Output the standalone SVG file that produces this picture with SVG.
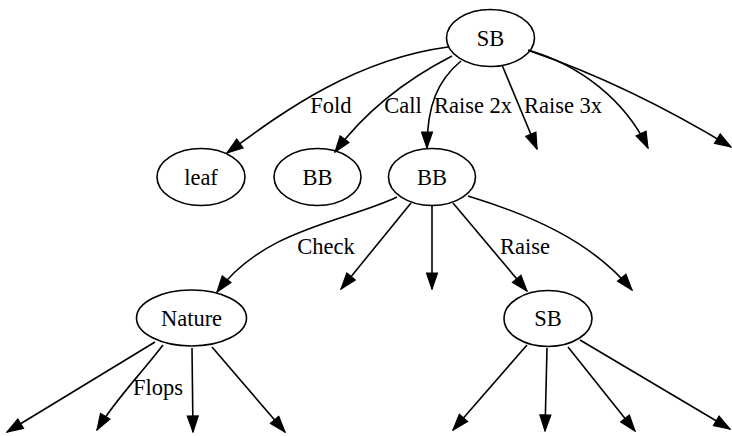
<svg xmlns="http://www.w3.org/2000/svg" width="732" height="436" viewBox="0 0 732 436">
<style>
.n ellipse{fill:none;stroke:#000;stroke-width:1.6}
text{font-family:"Liberation Serif","Times New Roman",serif;font-size:22.5px;fill:#000}
.n text{text-anchor:middle}
.e path{fill:none;stroke:#000;stroke-width:1.6;marker-end:url(#ah)}
.lbl{text-anchor:middle}
</style>
<defs>
<marker id="ah" markerUnits="userSpaceOnUse" markerWidth="18" markerHeight="13" refX="16" refY="6" orient="auto" viewBox="-1 -0.5 18 13">
<path d="M0,0.5 L16,6 L0,11.5 z" fill="#000" stroke="#000" stroke-width="1.2"/>
</marker>
</defs>
<rect width="732" height="436" fill="#fff"/>
<g id="edges" class="e">
<path d="M448,47 C350,60 275,118 227,153"/>
<path d="M452,56 C415,75 370,105 335,152"/>
<path d="M461,61 C438,80 427,105 427,148"/>
<path d="M502,65 L537,149"/>
<path d="M528,50 C580,65 625,100 648,148"/>
<path d="M530,51 C600,75 670,110 731,147"/>
<path d="M397,197 C345,222 265,228 217,292"/>
<path d="M411,203 L341,289"/>
<path d="M432,206 L432,289"/>
<path d="M453,203 L527,291"/>
<path d="M468,196 C530,215 590,240 632,290"/>
<path d="M155,342 L7,432"/>
<path d="M163,345 C140,375 115,400 97,430"/>
<path d="M192,348 L193,432"/>
<path d="M212,347 L285,432"/>
<path d="M527,345 L453,430"/>
<path d="M547,348 L545,431"/>
<path d="M568,347 L635,431"/>
<path d="M580,340 L730,429"/>
<text class="lbl" x="331" y="113">Fold</text>
<text class="lbl" x="403" y="113">Call</text>
<text class="lbl" x="473" y="113">Raise 2x</text>
<text class="lbl" x="563" y="113">Raise 3x</text>
<text class="lbl" x="326" y="254">Check</text>
<text class="lbl" x="525" y="254">Raise</text>
<text class="lbl" x="158" y="395">Flops</text>
</g>
<g id="sb_root" class="n"><ellipse cx="490.5" cy="38" rx="44" ry="28.5"/><text x="490.5" y="45.5">SB</text></g>
<g id="leaf" class="n"><ellipse cx="201" cy="177" rx="44" ry="28.5"/><text x="201" y="184.5">leaf</text></g>
<g id="bb_call" class="n"><ellipse cx="317.5" cy="177" rx="43.5" ry="28.5"/><text x="317.5" y="184.5">BB</text></g>
<g id="bb_raise" class="n"><ellipse cx="432" cy="177" rx="43.5" ry="28.5"/><text x="432" y="184.5">BB</text></g>
<g id="nature" class="n"><ellipse cx="191.5" cy="318" rx="55" ry="28"/><text x="191.5" y="325.5">Nature</text></g>
<g id="sb_raise" class="n"><ellipse cx="548" cy="318.5" rx="44" ry="28"/><text x="548" y="326">SB</text></g>
</svg>
